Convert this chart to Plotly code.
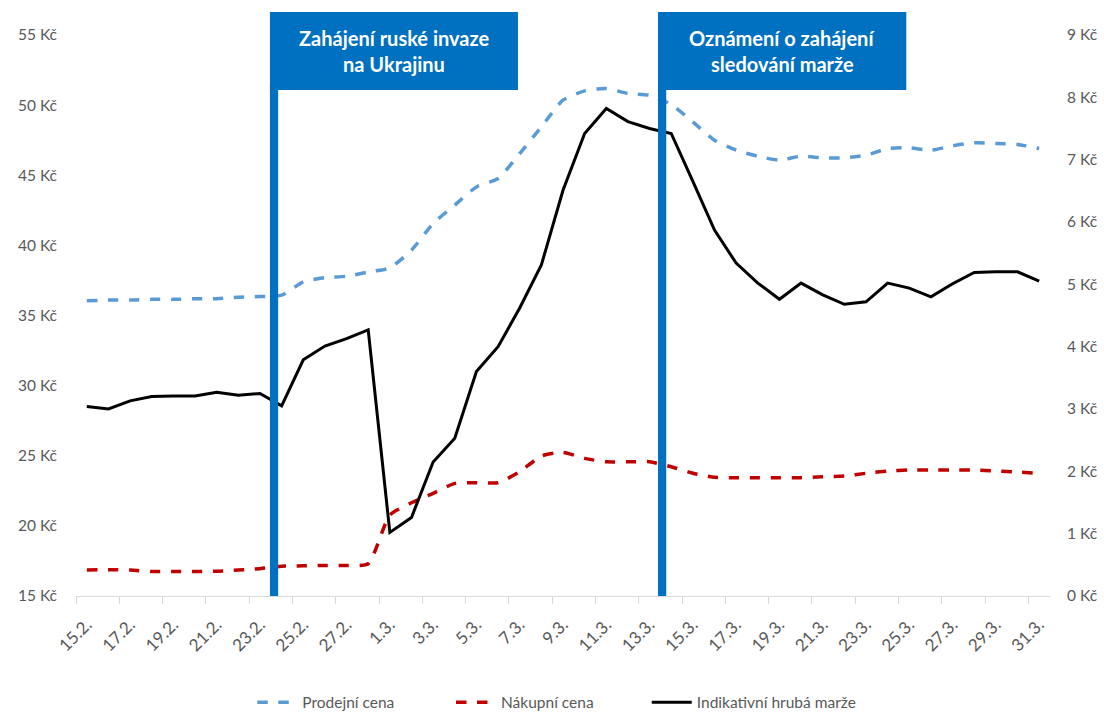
import plotly.graph_objects as go

dates = ["15.2.", "16.2.", "17.2.", "18.2.", "19.2.", "20.2.", "21.2.", "22.2.", "23.2.", "24.2.",
         "25.2.", "26.2.", "27.2.", "28.2.", "1.3.", "2.3.", "3.3.", "4.3.", "5.3.", "6.3.",
         "7.3.", "8.3.", "9.3.", "10.3.", "11.3.", "12.3.", "13.3.", "14.3.", "15.3.", "16.3.",
         "17.3.", "18.3.", "19.3.", "20.3.", "21.3.", "22.3.", "23.3.", "24.3.", "25.3.", "26.3.",
         "27.3.", "28.3.", "29.3.", "30.3.", "31.3."]

prodejni_cena = [36.05, 36.1, 36.1, 36.15, 36.15, 36.2, 36.2, 36.3, 36.35, 36.45,
                 37.4, 37.7, 37.8, 38.1, 38.4, 39.66, 41.56, 42.87, 44.17, 44.77,
                 46.55, 48.45, 50.35, 51.02, 51.18, 50.83, 50.71, 50.05, 48.8, 47.5,
                 46.79, 46.36, 46.08, 46.36, 46.24, 46.24, 46.43, 46.9, 46.95, 46.79,
                 47.1, 47.31, 47.27, 47.2, 46.91]

nakupni_cena = [16.85, 16.88, 16.85, 16.75, 16.75, 16.75, 16.77, 16.85, 16.95, 17.12,
                17.15, 17.18, 17.18, 17.3, 20.77, 21.65, 22.32, 23.03, 23.08, 23.08,
                23.86, 24.98, 25.24, 24.81, 24.57, 24.57, 24.57, 24.22, 23.75, 23.46,
                23.44, 23.44, 23.44, 23.44, 23.5, 23.55, 23.75, 23.91, 23.98, 23.98,
                23.98, 23.98, 23.91, 23.84, 23.75]

hruba_marze = [3.04, 3.0, 3.13, 3.2, 3.21, 3.21, 3.27, 3.22, 3.25, 3.05,
               3.79, 4.01, 4.13, 4.27, 1.02, 1.26, 2.15, 2.53, 3.6, 4.0,
               4.62, 5.31, 6.51, 7.42, 7.82, 7.61, 7.5, 7.42, 6.65, 5.87,
               5.34, 5.02, 4.76, 5.02, 4.83, 4.68, 4.72, 5.02, 4.94, 4.8,
               5.01, 5.19, 5.2, 5.2, 5.05]

left_ticks = [15, 20, 25, 30, 35, 40, 45, 50, 55]
right_ticks = [0, 1, 2, 3, 4, 5, 6, 7, 8, 9]

event_labels = [["Zahájení ruské invaze", "na Ukrajinu"],
                ["Oznámení o zahájení", "sledování marže"]]

x = list(range(len(dates)))
GRAY = "#595959"
FONT = "Lato"
FS = 15.5

fig = go.Figure()
fig.add_trace(go.Scatter(x=x, y=prodejni_cena, name="Prodejní cena", mode="lines", legend="legend",
                         line=dict(color="#5B9BD5", width=3.5, dash="dash", shape="spline", smoothing=0.6)))
fig.add_trace(go.Scatter(x=x, y=nakupni_cena, name="Nákupní cena", mode="lines", legend="legend2",
                         line=dict(color="#C00000", width=3.5, dash="dash", shape="spline", smoothing=0.6)))
fig.add_trace(go.Scatter(x=x, y=hruba_marze, name="Indikativní hrubá marže", mode="lines", legend="legend3",
                         line=dict(color="#000000", width=3), yaxis="y2"))

# event markers (vertical bar + box), positions in x-axis units
event_geom = [(8.46, 19.92), (26.39, 37.86)]
bar_w = 0.38
for (x0, x1), lines in zip(event_geom, event_labels):
    fig.add_shape(type="rect", xref="x", yref="paper", x0=x0, x1=x0 + bar_w, y0=0, y1=0.91,
                  fillcolor="#0070C0", line=dict(width=0), layer="above")
    fig.add_shape(type="rect", xref="x", yref="paper", x0=x0, x1=x1, y0=0.902, y1=1.041,
                  fillcolor="#0070C0", line=dict(width=0), layer="above")
    xc = (x0 + x1) / 2
    for k, txt in enumerate(lines):
        fig.add_annotation(x=xc, xref="x", y=[0.9947, 0.948][k], yref="paper", text="<b>" + txt + "</b>",
                           showarrow=False, font=dict(family=FONT, size=20, color="white"),
                           xanchor="center", yanchor="middle")

leg_common = dict(orientation="h", xanchor="left", y=-0.19, yanchor="middle",
                  font=dict(family=FONT, size=FS, color=GRAY), itemwidth=40, bgcolor="rgba(0,0,0,0)")

fig.update_layout(
    width=1104, height=713,
    margin=dict(l=76, r=54, t=35, b=117, autoexpand=False),
    plot_bgcolor="white", paper_bgcolor="white",
    font=dict(family=FONT, size=FS, color=GRAY),
    showlegend=True,
    legend=dict(x=0.181, **leg_common),
    legend2=dict(x=0.385, **leg_common),
    legend3=dict(x=0.586, **leg_common),
    xaxis=dict(range=[-0.5, len(dates) - 0.5], tickmode="array",
               tickvals=x[::2], ticktext=dates[::2], tickangle=-45,
               showgrid=False, zeroline=False, showline=True, linecolor="#D9D9D9", linewidth=1,
               ticks="", tickfont=dict(family=FONT, size=17, color=GRAY), automargin=False,
               ticklabelstandoff=11,
               minor=dict(tick0=-0.5, dtick=2, ticks="outside", ticklen=7, tickcolor="#D9D9D9", showgrid=False)),
    yaxis=dict(range=[15, 55], tickmode="array", tickvals=left_ticks,
               ticktext=[f"{v} Kč" for v in left_ticks], showgrid=False, zeroline=False,
               showline=False, tickfont=dict(family=FONT, size=FS, color=GRAY), ticks="",
               ticklabelstandoff=18, automargin=False),
    yaxis2=dict(range=[0, 9], tickmode="array", tickvals=right_ticks,
                ticktext=[f"{v} Kč" for v in right_ticks], overlaying="y", side="right",
                showgrid=False, zeroline=False, showline=False,
                tickfont=dict(family=FONT, size=FS, color=GRAY), ticks="",
                ticklabelstandoff=16, automargin=False),
)

fig.write_html("out.html", config={"displayModeBar": False},
               post_script="document.body.style.margin='0';document.body.style.overflow='hidden';")
